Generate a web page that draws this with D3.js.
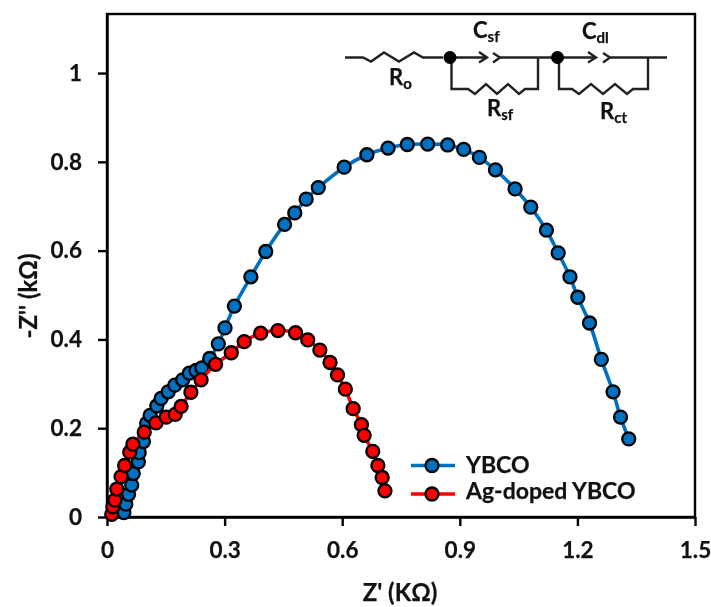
<!DOCTYPE html>
<html>
<head>
<meta charset="utf-8">
<title>Nyquist YBCO</title>
<script src="https://d3js.org/d3.v7.min.js"></script>
<style>
    html, body { margin: 0; padding: 0; background: #fff; overflow: hidden; }
    svg { display: block; filter: blur(0.5px); }
    text { font-family: Lato, "Open Sans", sans-serif; font-weight: 700; fill: #111; stroke: #111; stroke-width: 0.25px; }
    .axis path, .axis line { stroke: #000; stroke-width: 2.4px; }
    .wire { fill: none; stroke: #222; stroke-width: 2.4px; stroke-linejoin: miter; }
</style>
</head>
<body>
<div id="container"></div>

<script>

// Valeurs (kOhm)
const ybcoX = [0.043, 0.048, 0.055, 0.063, 0.067, 0.080, 0.082, 0.093, 0.101, 0.110, 0.127, 0.138, 0.156, 0.173, 0.193, 0.210, 0.227, 0.242, 0.262, 0.284, 0.301, 0.325, 0.367, 0.405, 0.453, 0.479, 0.508, 0.539, 0.605, 0.663, 0.717, 0.766, 0.818, 0.869, 0.910, 0.950, 0.991, 1.041, 1.081, 1.121, 1.151, 1.181, 1.201, 1.231, 1.261, 1.291, 1.310, 1.331];
const ybcoY = [0.010, 0.029, 0.051, 0.072, 0.098, 0.124, 0.145, 0.170, 0.211, 0.229, 0.250, 0.267, 0.282, 0.297, 0.309, 0.324, 0.330, 0.336, 0.357, 0.390, 0.426, 0.475, 0.541, 0.598, 0.659, 0.685, 0.716, 0.742, 0.788, 0.816, 0.831, 0.839, 0.840, 0.838, 0.828, 0.810, 0.782, 0.739, 0.698, 0.646, 0.595, 0.541, 0.495, 0.437, 0.355, 0.282, 0.225, 0.176];
const agX = [0.012, 0.015, 0.020, 0.025, 0.036, 0.045, 0.058, 0.066, 0.095, 0.125, 0.151, 0.174, 0.189, 0.214, 0.240, 0.277, 0.317, 0.350, 0.392, 0.436, 0.481, 0.512, 0.543, 0.569, 0.588, 0.608, 0.628, 0.649, 0.656, 0.678, 0.691, 0.702, 0.709];
const agY = [0.006, 0.023, 0.038, 0.063, 0.091, 0.116, 0.146, 0.164, 0.191, 0.212, 0.225, 0.231, 0.249, 0.281, 0.309, 0.344, 0.370, 0.395, 0.414, 0.420, 0.415, 0.399, 0.376, 0.348, 0.320, 0.288, 0.244, 0.208, 0.184, 0.148, 0.116, 0.089, 0.059];

const xTicks = [0, 0.3, 0.6, 0.9, 1.2, 1.5];
const yTicks = [0, 0.2, 0.4, 0.6, 0.8, 1];
const legendNames = ["YBCO", "Ag-doped YBCO"];
const colors = ["#0070C0", "#FF0000"];

// Dimensions
const width = 711;
const height = 607;
const marginTop = 14;
const marginRight = 16;
const marginBottom = 90;
const marginLeft = 107;

const svg = d3.select("#container")
              .append("svg")
              .attr("width", width)
              .attr("height", height);

// Echelles
const x = d3.scaleLinear().domain([0, 1.5]).range([marginLeft, width - marginRight]);
const y = d3.scaleLinear().domain([0, 1.133]).range([height - marginBottom, marginTop]);

// Cadre
svg.append("rect")
   .attr("x", marginLeft)
   .attr("y", marginTop)
   .attr("width", width - marginRight - marginLeft)
   .attr("height", height - marginBottom - marginTop)
   .attr("fill", "none")
   .attr("stroke", "#000")
   .attr("stroke-width", 2.4);

// Axes
const xAxis = svg.append("g")
                 .attr("class", "axis")
                 .attr("transform", `translate(0,${height - marginBottom})`)
                 .call(d3.axisBottom(x).tickValues(xTicks).tickSize(9).tickSizeOuter(0).tickFormat(d => d));
xAxis.selectAll("text").attr("y", 25).attr("dy", "0.71em").style("font-size", "22.5px");

const yAxis = svg.append("g")
                 .attr("class", "axis")
                 .attr("transform", `translate(${marginLeft},0)`)
                 .call(d3.axisLeft(y).tickValues(yTicks).tickSize(9).tickSizeOuter(0).tickFormat(d => d));
yAxis.selectAll("text").attr("x", -25).style("font-size", "22.5px");

svg.append("text")
   .attr("x", 400)
   .attr("y", 601)
   .attr("text-anchor", "middle")
   .style("font-size", "24px")
   .text("Z' (KΩ)");

svg.append("text")
   .attr("transform", "translate(37,296) rotate(-90)")
   .attr("text-anchor", "middle")
   .style("font-size", "24px")
   .text("-Z'' (kΩ)");

// Courbes puis points
const line = d3.line().x(d => x(d[0])).y(d => y(d[1])).curve(d3.curveCatmullRom);

function drawSeries(xs, ys, color) {
    const pts = d3.zip(xs, ys);
    svg.append("path")
       .datum(pts)
       .attr("d", line)
       .attr("fill", "none")
       .attr("stroke", color)
       .attr("stroke-width", 3.6);
    svg.append("g")
       .selectAll("circle")
       .data(pts)
       .enter().append("circle")
       .attr("cx", d => x(d[0]))
       .attr("cy", d => y(d[1]))
       .attr("r", 6.5)
       .attr("fill", color)
       .attr("stroke", "#000")
       .attr("stroke-width", 2.3);
}
drawSeries(ybcoX, ybcoY, colors[0]);
drawSeries(agX, agY, colors[1]);

// Legende
const legend = svg.selectAll(".leg")
                  .data(legendNames)
                  .enter().append("g")
                  .attr("class", "leg")
                  .attr("transform", (d, i) => `translate(411,${i === 0 ? 465.5 : 494})`);
legend.append("line")
      .attr("x2", 44)
      .attr("stroke", (d, i) => colors[i])
      .attr("stroke-width", 3.6);
legend.append("circle")
      .attr("cx", 21)
      .attr("r", 6.5)
      .attr("fill", (d, i) => colors[i])
      .attr("stroke", "#000")
      .attr("stroke-width", 2.3);
legend.append("text")
      .attr("x", 55)
      .attr("y", (d, i) => i === 0 ? 7 : 5)
      .style("font-size", "23px")
      .text(d => d);

// Circuit equivalent (encart)
const circuit = svg.append("g");
const wires = [
    "M345,57.5H363l8,4 13,-9 15,9 15,-9 9,5H443",
    "M450,57.5H487M479,52l8,5.5 -8,5M493,53l7,4.5 -7,5M500,57.5H558",
    "M558,57.5H596M588,52l8,5.5 -8,5M603,53l7,4.5 -7,5M610,57.5H667",
    "M451.5,57.5V89H468l7,5 11,-10 11,10 11,-10 11,10 6,-5H538V57.5",
    "M559,57.5V89H572l7,5 12,-10 12,10 12,-10 12,10 6,-5H648V57.5"
];
circuit.selectAll("path")
       .data(wires)
       .enter().append("path")
       .attr("class", "wire")
       .attr("d", d => d);
circuit.selectAll("circle")
       .data([450, 557.5])
       .enter().append("circle")
       .attr("cx", d => d)
       .attr("cy", 57.5)
       .attr("r", 6.5)
       .attr("fill", "#000");

const labels = [
    { main: "R", sub: "o", lx: 389, ly: 85 },
    { main: "C", sub: "sf", lx: 473, ly: 38 },
    { main: "R", sub: "sf", lx: 487, ly: 116 },
    { main: "C", sub: "dl", lx: 582, ly: 39 },
    { main: "R", sub: "ct", lx: 600, ly: 119 }
];
const lab = circuit.selectAll("text")
                   .data(labels)
                   .enter().append("text")
                   .attr("x", d => d.lx)
                   .attr("y", d => d.ly)
                   .style("font-size", "22px");
lab.append("tspan").text(d => d.main);
lab.append("tspan").attr("dy", 4).style("font-size", "15px").text(d => d.sub);

</script>

</body>
</html>
